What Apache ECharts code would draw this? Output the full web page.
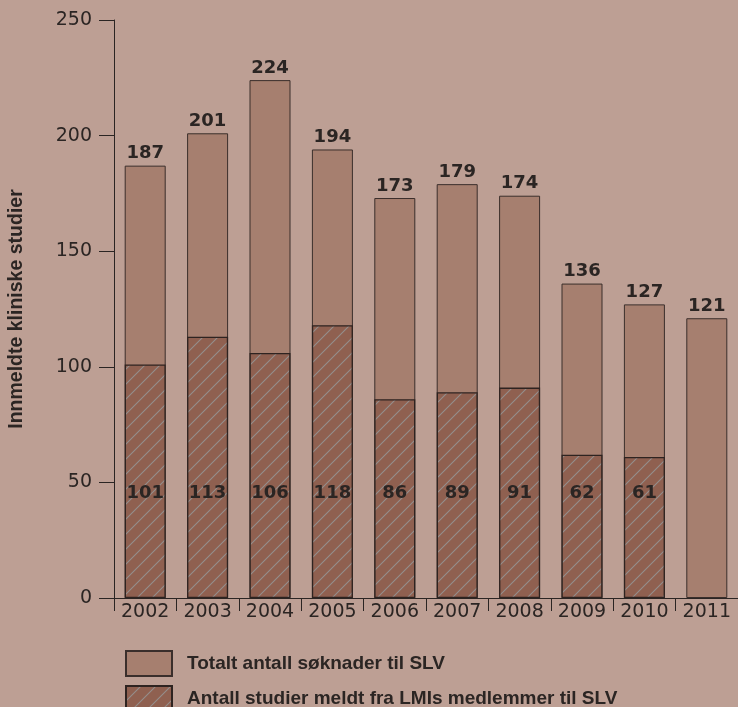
<!DOCTYPE html>
<html><head><meta charset="utf-8">
<script src="https://cdn.jsdelivr.net/npm/echarts@6/dist/echarts.min.js"></script>
<style>html,body{margin:0;padding:0;background:#bd9f94;}#c{width:738px;height:707px;}</style>
</head><body><div id="c"></div>
<script>
var years = ['2002','2003','2004','2005','2006','2007','2008','2009','2010','2011'];
var totalApplications = [187,201,224,194,173,179,174,136,127,121];
var memberStudies = [101,113,106,118,86,89,91,62,61,null];
var yTicks = [0,50,100,150,200,250];
var seriesNames = ['Totalt antall søknader til SLV', 'Antall studier meldt fra LMIs medlemmer til SLV'];

function makeHatch(){
  var s = 15, c = document.createElement('canvas');
  c.width = s; c.height = s;
  var g = c.getContext('2d');
  g.fillStyle = '#8f6050'; g.fillRect(0,0,s,s);
  g.strokeStyle = '#948e8c'; g.lineWidth = 1.1;
  g.beginPath();
  g.moveTo(0,s); g.lineTo(s,0);
  g.moveTo(-s/2,s/2); g.lineTo(s/2,-s/2);
  g.moveTo(s/2,s*1.5); g.lineTo(s*1.5,s/2);
  g.stroke();
  return c;
}
var hatch = {image: makeHatch(), repeat: 'repeat'};

var chart = echarts.init(document.getElementById('c'));
var dark = '#2b2523';
var legendText = {fontFamily: 'Liberation Sans', fontWeight: 'bold', fontSize: 19, color: dark, padding: [0,0,0,10]};
chart.setOption({
  backgroundColor: '#bd9f94',
  animation: false,
  grid: {left: 114, right: 0, top: 20, bottom: 109, outerBoundsMode: 'none', containLabel: false},
  legend: [
    {left: 120, top: 645, itemWidth: 46, itemHeight: 25, icon: 'rect', textStyle: legendText, data: [seriesNames[0]]},
    {left: 120, top: 680, itemWidth: 46, itemHeight: 25, icon: 'rect', textStyle: legendText, data: [seriesNames[1]]}
  ],
  xAxis: {
    type: 'category', data: years,
    axisLine: {lineStyle: {color: dark, width: 1}},
    axisTick: {show: true, length: 13, lineStyle: {color: dark}},
    axisLabel: {interval: 0, fontFamily: 'DejaVu Sans', fontSize: 19, color: dark, margin: 5}
  },
  yAxis: {
    type: 'value', min: yTicks[0], max: yTicks[yTicks.length-1], interval: 50,
    name: 'Innmeldte kliniske studier', nameLocation: 'middle', nameGap: 87,
    nameTextStyle: {fontFamily: 'Liberation Sans', fontWeight: 'bold', fontSize: 19.5, color: dark},
    splitLine: {show: false},
    axisLine: {show: true, lineStyle: {color: dark, width: 1}},
    axisTick: {show: true, length: 15, lineStyle: {color: dark}},
    axisLabel: {fontFamily: 'DejaVu Sans', fontSize: 19, color: dark, margin: 22}
  },
  series: [
    {
      name: seriesNames[0], type: 'bar', data: totalApplications,
      barWidth: 41, barGap: '-100%',
      itemStyle: {color: '#a67f6f', borderColor: '#3a2e2b', borderWidth: 1},
      label: {show: true, position: 'top', distance: 3, fontFamily: 'DejaVu Sans', fontWeight: 'bold', fontSize: 18, color: dark}
    },
    {
      name: seriesNames[1], type: 'bar', data: memberStudies,
      barWidth: 41,
      itemStyle: {color: hatch, borderColor: '#2e2320', borderWidth: 1.3},
      label: {show: true, position: 'insideBottom', distance: 96, fontFamily: 'DejaVu Sans', fontWeight: 'bold', fontSize: 18, color: dark}
    }
  ]
});
</script></body></html>
